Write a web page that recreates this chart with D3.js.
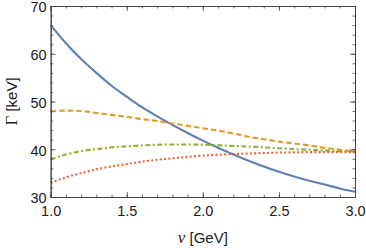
<!DOCTYPE html>
<html>
<head>
<meta charset="utf-8">
<script src="https://cdn.jsdelivr.net/npm/d3@7"></script>
<style>
  body { margin: 0; background: #fff; }
  svg { display: block; }
  .tick-label { font-family: "Liberation Sans", Arial, sans-serif; font-size: 14.5px; fill: #1a1a1a; }
</style>
</head>
<body>
<div id="chart"></div>
<script>
const nu = [1.0, 1.1, 1.2, 1.3, 1.4, 1.5, 1.6, 1.7, 1.8, 1.9, 2.0, 2.1, 2.2, 2.3, 2.4, 2.5, 2.6, 2.7, 2.8, 2.9, 3.0];
const blueSolid = [66.0, 62.2, 58.9, 56.0, 53.3, 51.0, 48.8, 46.9, 45.1, 43.4, 41.8, 40.3, 38.9, 37.6, 36.4, 35.3, 34.3, 33.4, 32.6, 31.8, 31.1];
const orangeDashed = [47.9, 48.1, 48.0, 47.6, 47.2, 46.8, 46.3, 45.9, 45.4, 44.9, 44.4, 43.9, 43.3, 42.6, 42.1, 41.6, 41.2, 40.8, 40.3, 39.9, 39.5];
const greenDotDash = [37.9, 38.9, 39.6, 40.0, 40.4, 40.6, 40.8, 40.95, 41.0, 41.0, 40.95, 40.85, 40.7, 40.55, 40.4, 40.2, 40.05, 39.9, 39.75, 39.6, 39.5];
const redDotted = [33.0, 34.1, 35.0, 35.8, 36.4, 36.9, 37.4, 37.8, 38.1, 38.4, 38.65, 38.85, 39.0, 39.1, 39.2, 39.3, 39.35, 39.4, 39.4, 39.4, 39.4];

const xTicks = [1.0, 1.5, 2.0, 2.5, 3.0];
const yTicks = [30, 40, 50, 60, 70];

const series = [
  { values: blueSolid, color: '#5E81B5', dash: null },
  { values: orangeDashed, color: '#E19C24', dash: '5.5,3' },
  { values: greenDotDash, color: '#8FB032', dash: '5,2.5,2,2.5' },
  { values: redDotted, color: '#EB6235', dash: '2,2.3' }
];

const W = 366, H = 250;
const m = { left: 50.7, right: 11, top: 6, bottom: 53 };

const svg = d3.select('#chart').append('svg')
  .attr('width', W).attr('height', H);

const x = d3.scaleLinear().domain([1, 3]).range([m.left, W - m.right]);
const y = d3.scaleLinear().domain([30, 70]).range([H - m.bottom, m.top]);

// curves
const line = d3.line().x((d, i) => x(nu[i])).y(d => y(d)).curve(d3.curveMonotoneX);
const plot = svg.append('g');
series.forEach(s => {
  plot.append('path')
    .datum(s.values)
    .attr('d', line)
    .attr('fill', 'none')
    .attr('stroke', s.color)
    .attr('stroke-width', 2.1)
    .attr('stroke-dasharray', s.dash);
});

// frame + inward ticks
const frameColor = '#444';
const xMinor = d3.range(1, 3.0001, 0.1);
const yMinor = d3.range(30, 70.0001, 2);

svg.append('g').attr('transform', `translate(0,${y(30)})`)
  .call(d3.axisBottom(x).tickValues(xMinor).tickSize(-2.5).tickFormat(''));
svg.append('g').attr('transform', `translate(0,${y(30)})`)
  .call(d3.axisBottom(x).tickValues(xTicks).tickSize(-5).tickPadding(9).tickFormat(d3.format('.1f')));
svg.append('g').attr('transform', `translate(0,${y(70)})`)
  .call(d3.axisTop(x).tickValues(xMinor).tickSize(-2.5).tickFormat(''));
svg.append('g').attr('transform', `translate(0,${y(70)})`)
  .call(d3.axisTop(x).tickValues(xTicks).tickSize(-5).tickFormat(''));
svg.append('g').attr('transform', `translate(${x(1)},0)`)
  .call(d3.axisLeft(y).tickValues(yMinor).tickSize(-2.5).tickFormat(''));
const yLab = svg.append('g').attr('transform', `translate(${x(1)},0)`)
  .call(d3.axisLeft(y).tickValues(yTicks).tickSize(-5).tickPadding(4).tickFormat(d3.format('d')));
yLab.selectAll('.tick text').attr('dy', '0.4em');
svg.append('g').attr('transform', `translate(${x(3)},0)`)
  .call(d3.axisRight(y).tickValues(yMinor).tickSize(-2.5).tickFormat(''));
svg.append('g').attr('transform', `translate(${x(3)},0)`)
  .call(d3.axisRight(y).tickValues(yTicks).tickSize(-5).tickFormat(''));

svg.selectAll('.domain').attr('stroke', frameColor).attr('stroke-width', 1);
svg.selectAll('.tick line').attr('stroke', frameColor).attr('stroke-width', 0.8);
svg.selectAll('.tick text').attr('class', 'tick-label').attr('font-size', null).attr('font-family', null).attr('fill', null);

// axis titles
svg.append('text')
  .attr('x', (x(1) + x(3)) / 2).attr('y', 243)
  .attr('text-anchor', 'middle')
  .style('font-family', '"Liberation Sans", Arial, sans-serif').style('font-size', '15px').style('fill', '#1a1a1a')
  .call(t => {
    t.append('tspan').text('ν').style('font-family', '"Liberation Serif", "Times New Roman", serif').style('font-style', 'italic').style('font-size', '17px');
    t.append('tspan').text(' [GeV]');
  });

svg.append('text')
  .attr('transform', `translate(17,${(y(30) + y(70)) / 2}) rotate(-90)`)
  .attr('text-anchor', 'middle')
  .style('font-family', '"Liberation Sans", Arial, sans-serif').style('font-size', '15px').style('fill', '#1a1a1a')
  .call(t => {
    t.append('tspan').text('Γ').style('font-family', '"Liberation Serif", "Times New Roman", serif').style('font-size', '17px');
    t.append('tspan').text(' [keV]');
  });
</script>
</body>
</html>
